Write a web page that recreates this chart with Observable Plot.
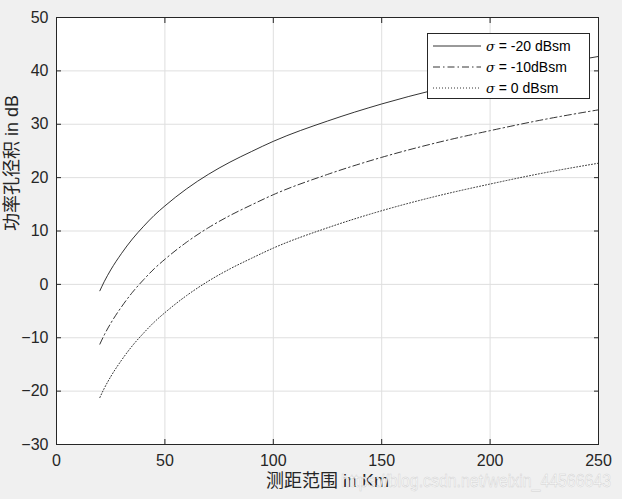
<!DOCTYPE html>
<html><head><meta charset="utf-8">
<script src="https://cdn.jsdelivr.net/npm/d3@7"></script>
<script src="https://cdn.jsdelivr.net/npm/@observablehq/plot@0.6"></script>
<style>
html,body{margin:0;padding:0;background:#f0f0f0;}
#wrap{position:relative;width:622px;height:499px;overflow:hidden;}
#legend{position:absolute;left:427px;top:33px;width:163px;height:66px;background:#fff;border:1px solid #262626;box-sizing:border-box;}
#wm{position:absolute;left:0;top:0;pointer-events:none;}
</style></head>
<body><div id="wrap"><div id="chart"></div><div id="legend"></div><svg id="wm" width="622" height="499"></svg></div>
<script>
const ranges = [20,22,25,30,35,40,45,50,60,70,80,90,100,125,150,175,200,225,250];
const pap20 = [-1.2,0.5,2.7,5.8,8.5,10.8,12.9,14.7,17.9,20.6,22.9,24.9,26.8,30.6,33.8,36.5,38.8,40.9,42.7];
const pap10 = [-11.2,-9.5,-7.3,-4.2,-1.5,0.8,2.9,4.7,7.9,10.6,12.9,14.9,16.8,20.6,23.8,26.5,28.8,30.9,32.7];
const pap0  = [-21.2,-19.5,-17.3,-14.2,-11.5,-9.2,-7.1,-5.3,-2.1,0.6,2.9,4.9,6.8,10.6,13.8,16.5,18.8,20.9,22.7];
const seriesNames = ["σ = -20 dBsm","σ = -10dBsm","σ = 0 dBsm"];
const dashes = [null,"7,3,1.5,3","1,2"];
const xTicks = [0,50,100,150,200,250];
const yTicks = [-30,-20,-10,0,10,20,30,40,50];
const xLabel = "测距范围 in Km";
const yLabel = "功率孔径积 in dB";
const watermark = "https://blog.csdn.net/weixin_44566643";

const allSeries = [pap20,pap10,pap0];
const data = [];
allSeries.forEach((vals,i)=>vals.forEach((v,j)=>data.push({series:i,range:ranges[j],pap:v})));

const font = '"Liberation Sans", Arial, "Noto Sans CJK SC", sans-serif';
const chart = Plot.plot({
  width:622, height:499,
  marginLeft:56, marginRight:24, marginTop:17, marginBottom:55,
  style:{background:"transparent", fontFamily:font, fontSize:"16px", color:"#262626"},
  x:{domain:[0,250]},
  y:{domain:[-30,50]},
  marks:[
    Plot.frame({fill:"white", stroke:null}),
    Plot.gridX(xTicks,{stroke:"#dfdfdf", strokeOpacity:1, strokeWidth:1}),
    Plot.gridY(yTicks,{stroke:"#dfdfdf", strokeOpacity:1, strokeWidth:1}),
    ...allSeries.map((_,i)=>Plot.line(data.filter(d=>d.series===i),{x:"range",y:"pap",curve:"monotone-x",stroke:"black",strokeWidth:0.8,strokeDasharray:dashes[i]})),
    Plot.axisX(xTicks,{anchor:"bottom",tickSize:0,tickPadding:10,label:null,fontSize:16,fill:"#262626"}),
    Plot.axisY(yTicks,{anchor:"left",tickSize:0,tickPadding:8,label:null,fontSize:16,fill:"#262626"}),
    Plot.axisX(xTicks,{anchor:"bottom",tickSize:-5,tickFormat:()=>"",label:null,stroke:"#262626"}),
    Plot.axisX(xTicks,{anchor:"top",tickSize:-5,tickFormat:()=>"",label:null,stroke:"#262626"}),
    Plot.axisY(yTicks,{anchor:"left",tickSize:-5,tickFormat:()=>"",label:null,stroke:"#262626"}),
    Plot.axisY(yTicks,{anchor:"right",tickSize:-5,tickFormat:()=>"",label:null,stroke:"#262626"}),
    Plot.frame({stroke:"#262626", strokeWidth:1}),
    Plot.text([xLabel],{frameAnchor:"bottom",dy:42,text:d=>d,fontSize:18,fill:"#262626"}),
    Plot.text([yLabel],{frameAnchor:"left",dx:-44,rotate:-90,text:d=>d,fontSize:18,fill:"#262626"})
  ]
});
document.getElementById("chart").appendChild(chart);

// legend
const lg = d3.select("#legend").append("svg").attr("width",161).attr("height",64);
seriesNames.forEach((name,i)=>{
  const y = 12 + i*21;
  lg.append("line").attr("x1",5).attr("x2",53).attr("y1",y).attr("y2",y)
    .attr("stroke","black").attr("stroke-width",0.8).attr("stroke-dasharray",dashes[i]);
  const parts = name.split("σ");
  const t = lg.append("text").attr("x",58).attr("y",y+5).attr("font-family",font).attr("font-size",14).attr("fill","#000");
  t.append("tspan").attr("font-family",'"DejaVu Serif", serif').attr("font-style","italic").attr("font-size",13).text("σ");
  t.append("tspan").text(parts[1]);
});

// watermark
d3.select("#wm").append("text").attr("x",341).attr("y",487)
  .attr("textLength",270).attr("lengthAdjust","spacingAndGlyphs")
  .attr("font-family",font).attr("font-size",18)
  .attr("fill","#fbfbfb").attr("stroke","#d2d2d2").attr("stroke-width",0.5)
  .text(watermark);
</script></body></html>
